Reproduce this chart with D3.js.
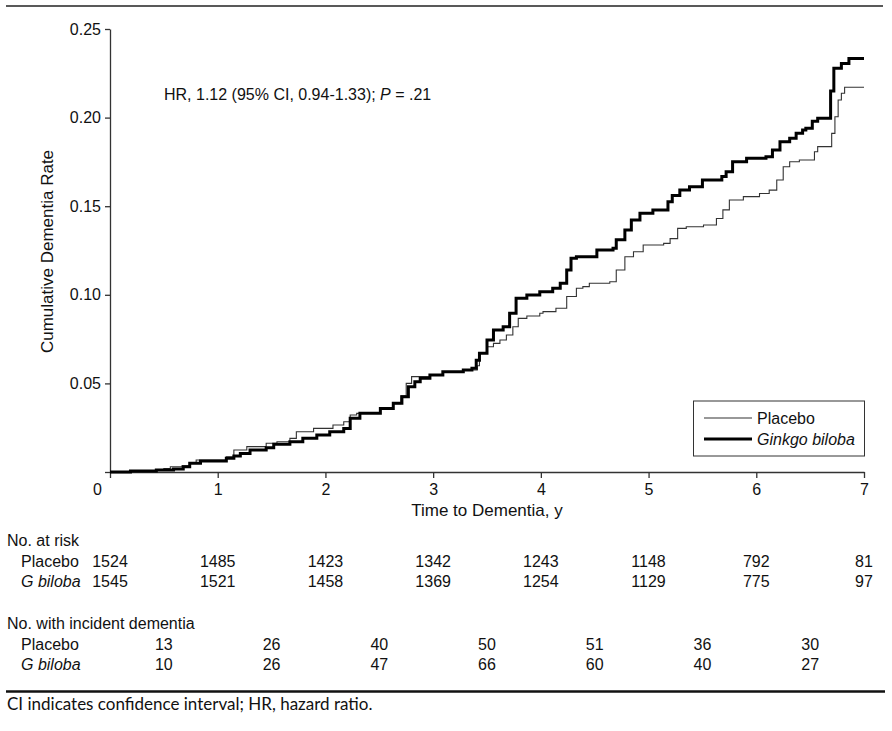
<!DOCTYPE html>
<html lang="en">
<head>
    <meta charset="UTF-8">
    <script src="https://d3js.org/d3.v7.min.js"></script>
    <style>
        body { margin: 0; background: #fff; }
        text {
            font-family: "Liberation Sans", Arial, sans-serif;
            fill: #111;
        }
    </style>
</head>
<body>
    <svg id="chart" width="892" height="731"></svg>
    <script>
        // Step points [years, cumulative rate]
        const placeboSteps = [
            [0, 0], [0.19, 0.0006], [0.43, 0.0011], [0.50, 0.002], [0.56, 0.003], [0.67, 0.0035],
            [0.74, 0.005], [0.80, 0.0068], [1.08, 0.0086], [1.15, 0.0124], [1.27, 0.0143],
            [1.45, 0.0162], [1.55, 0.0171], [1.67, 0.019], [1.73, 0.0227], [1.89, 0.0246],
            [2.07, 0.0265], [2.17, 0.0284], [2.23, 0.0322], [2.29, 0.0331], [2.51, 0.0355],
            [2.63, 0.0385], [2.70, 0.043], [2.75, 0.05], [2.80, 0.0538], [2.97, 0.0547],
            [3.09, 0.0566], [3.28, 0.0576], [3.41, 0.060], [3.43, 0.067], [3.50, 0.0707],
            [3.56, 0.0726], [3.62, 0.0745], [3.68, 0.0773], [3.74, 0.082], [3.79, 0.0867],
            [3.87, 0.088], [3.99, 0.0896], [4.02, 0.0905], [4.14, 0.0924], [4.24, 0.099],
            [4.33, 0.1037], [4.39, 0.1046], [4.45, 0.1065], [4.64, 0.1074], [4.70, 0.114],
            [4.78, 0.1215], [4.86, 0.1243], [4.95, 0.1281], [5.14, 0.129], [5.20, 0.1317],
            [5.27, 0.1375], [5.35, 0.1384], [5.51, 0.1394], [5.63, 0.1431], [5.69, 0.1479],
            [5.75, 0.1535], [5.88, 0.1554], [6.03, 0.1572], [6.12, 0.1591], [6.19, 0.1648],
            [6.25, 0.1723], [6.31, 0.1751], [6.40, 0.1761], [6.54, 0.1807], [6.57, 0.1836],
            [6.70, 0.1911], [6.73, 0.2005], [6.76, 0.2099], [6.79, 0.2137], [6.82, 0.2171],
            [7.0, 0.2171]
        ];
        const ginkgoSteps = [
            [0, 0], [0.19, 0.0006], [0.43, 0.0011], [0.59, 0.0017], [0.68, 0.003], [0.74, 0.0049],
            [0.84, 0.0062], [1.08, 0.0077], [1.15, 0.009], [1.21, 0.0105], [1.30, 0.0124],
            [1.45, 0.0137], [1.52, 0.0156], [1.67, 0.0171], [1.79, 0.019], [1.92, 0.0209],
            [2.04, 0.0227], [2.17, 0.0246], [2.23, 0.0303], [2.32, 0.0331], [2.51, 0.0359],
            [2.63, 0.0388], [2.71, 0.0425], [2.77, 0.0481], [2.83, 0.051], [2.88, 0.0529],
            [2.97, 0.0547], [3.09, 0.0566], [3.28, 0.0576], [3.36, 0.0585], [3.40, 0.063],
            [3.43, 0.067], [3.50, 0.0745], [3.56, 0.0801], [3.65, 0.082], [3.71, 0.0896],
            [3.77, 0.098], [3.87, 0.0999], [3.99, 0.1017], [4.11, 0.1037], [4.18, 0.1065],
            [4.24, 0.114], [4.28, 0.1206], [4.33, 0.1215], [4.52, 0.1253], [4.67, 0.1262],
            [4.70, 0.131], [4.78, 0.1366], [4.84, 0.1422], [4.92, 0.146], [5.04, 0.1479],
            [5.18, 0.1525], [5.22, 0.156], [5.29, 0.1591], [5.38, 0.161], [5.50, 0.1648],
            [5.68, 0.1667], [5.72, 0.1694], [5.78, 0.1751], [5.91, 0.177], [6.09, 0.1779],
            [6.15, 0.1817], [6.22, 0.1864], [6.31, 0.1883], [6.37, 0.1911], [6.43, 0.193],
            [6.46, 0.194], [6.52, 0.198], [6.57, 0.1996], [6.69, 0.215], [6.72, 0.2278],
            [6.79, 0.2306], [6.86, 0.2333], [7.0, 0.2333]
        ];

        const xTicks = [0, 1, 2, 3, 4, 5, 6, 7];
        const yTicks = [0, 0.05, 0.10, 0.15, 0.20, 0.25];

        const atRiskPlacebo = [1524, 1485, 1423, 1342, 1243, 1148, 792, 81];
        const atRiskGinkgo = [1545, 1521, 1458, 1369, 1254, 1129, 775, 97];
        const incidentPlacebo = [13, 26, 40, 50, 51, 36, 30];
        const incidentGinkgo = [10, 26, 47, 66, 60, 40, 27];

        const width = 892, height = 731;
        const plot = { left: 110, right: 864, top: 29, bottom: 472 };

        const svg = d3.select("#chart");

        svg.append("rect").attr("width", width).attr("height", height).attr("fill", "#fff");

        // Rules at top and bottom
        svg.append("line")
            .attr("x1", 6).attr("x2", 883).attr("y1", 6).attr("y2", 6)
            .attr("stroke", "#222").attr("stroke-width", 1.5);
        svg.append("line")
            .attr("x1", 6).attr("x2", 885).attr("y1", 691.5).attr("y2", 691.5)
            .attr("stroke", "#111").attr("stroke-width", 2.5);

        const x = d3.scaleLinear().domain([0, 7]).range([plot.left, plot.right]);
        const y = d3.scaleLinear().domain([0, 0.25]).range([plot.bottom, plot.top]);

        // Y axis
        const yAxis = svg.append("g")
            .attr("transform", `translate(${plot.left},0)`)
            .call(d3.axisLeft(y).tickValues(yTicks).tickSize(5).tickPadding(4)
                .tickSizeOuter(0)
                .tickFormat(d => d === 0 ? "" : d3.format(".2f")(d)));

        // X axis
        const xAxis = svg.append("g")
            .attr("transform", `translate(0,${plot.bottom})`)
            .call(d3.axisBottom(x).tickValues(xTicks).tickSize(6).tickPadding(6)
                .tickSizeOuter(0)
                .tickFormat(d3.format("d")));

        [yAxis, xAxis].forEach(g => {
            g.select(".domain").attr("stroke", "#333").attr("stroke-width", 1.3);
            g.selectAll(".tick line").attr("stroke", "#333").attr("stroke-width", 1.3);
            g.selectAll(".tick text")
                .attr("fill", "#111")
                .style("font-family", '"Liberation Sans", Arial, sans-serif')
                .style("font-size", "16px");
        });
        // the "0" sits to the left of the corner
        xAxis.selectAll(".tick text").filter(d => d === 0).attr("dx", -13);

        svg.append("text")
            .attr("transform", `translate(53,${(plot.top + plot.bottom) / 2 + 1}) rotate(-90)`)
            .attr("text-anchor", "middle")
            .style("font-size", "17px")
            .text("Cumulative Dementia Rate");

        svg.append("text")
            .attr("x", (plot.left + plot.right) / 2)
            .attr("y", 516)
            .attr("text-anchor", "middle")
            .style("font-size", "17px")
            .text("Time to Dementia, y");

        // Hazard ratio note
        const hr = svg.append("text")
            .attr("x", 164).attr("y", 100)
            .style("font-size", "16px");
        hr.append("tspan").text("HR, 1.12 (95% CI, 0.94-1.33); ");
        hr.append("tspan").style("font-style", "italic").text("P");
        hr.append("tspan").text(" = .21");

        // Curves
        const line = d3.line()
            .x(d => x(d[0]))
            .y(d => y(d[1]))
            .curve(d3.curveStepAfter);

        svg.append("path")
            .datum(placeboSteps)
            .attr("d", line)
            .attr("fill", "none")
            .attr("stroke", "#333")
            .attr("stroke-width", 1.1);

        svg.append("path")
            .datum(ginkgoSteps)
            .attr("d", line)
            .attr("fill", "none")
            .attr("stroke", "#000")
            .attr("stroke-width", 3);

        // Legend
        const legend = svg.append("g");
        legend.append("rect")
            .attr("x", 693.5).attr("y", 401).attr("width", 171).attr("height", 55)
            .attr("fill", "#fff").attr("stroke", "#333").attr("stroke-width", 1);
        legend.append("line")
            .attr("x1", 704).attr("x2", 752).attr("y1", 418).attr("y2", 418)
            .attr("stroke", "#333").attr("stroke-width", 1.1);
        legend.append("line")
            .attr("x1", 704).attr("x2", 752).attr("y1", 439).attr("y2", 439)
            .attr("stroke", "#000").attr("stroke-width", 3);
        legend.append("text")
            .attr("x", 757).attr("y", 423.5)
            .style("font-size", "16px")
            .text("Placebo");
        legend.append("text")
            .attr("x", 757).attr("y", 445)
            .style("font-size", "16px")
            .style("font-style", "italic")
            .text("Ginkgo biloba");

        // Tables beneath the plot
        const addLabel = (txt, xPos, yPos, italic) => {
            svg.append("text")
                .attr("x", xPos).attr("y", yPos)
                .style("font-size", "16px")
                .style("font-style", italic ? "italic" : "normal")
                .text(txt);
        };

        addLabel("No. at risk", 7, 546);
        addLabel("Placebo", 21, 566.5);
        addLabel("G biloba", 21, 586.5, true);
        addLabel("No. with incident dementia", 7, 629);
        addLabel("Placebo", 21, 650);
        addLabel("G biloba", 21, 670, true);

        const addRow = (values, pos, yPos) => {
            svg.append("g").selectAll("text")
                .data(values)
                .enter().append("text")
                .attr("x", (d, i) => x(pos(i)))
                .attr("y", yPos)
                .attr("text-anchor", "middle")
                .style("font-size", "16px")
                .text(d => d);
        };

        addRow(atRiskPlacebo, i => xTicks[i], 566.5);
        addRow(atRiskGinkgo, i => xTicks[i], 586.5);
        addRow(incidentPlacebo, i => xTicks[i] + 0.5, 650);
        addRow(incidentGinkgo, i => xTicks[i] + 0.5, 670);

        // Footnote
        svg.append("text")
            .attr("x", 7).attr("y", 709.5)
            .style("font-family", "Lato, 'Open Sans', sans-serif")
            .style("font-size", "17px")
            .text("CI indicates confidence interval; HR, hazard ratio.");
    </script>
</body>
</html>
